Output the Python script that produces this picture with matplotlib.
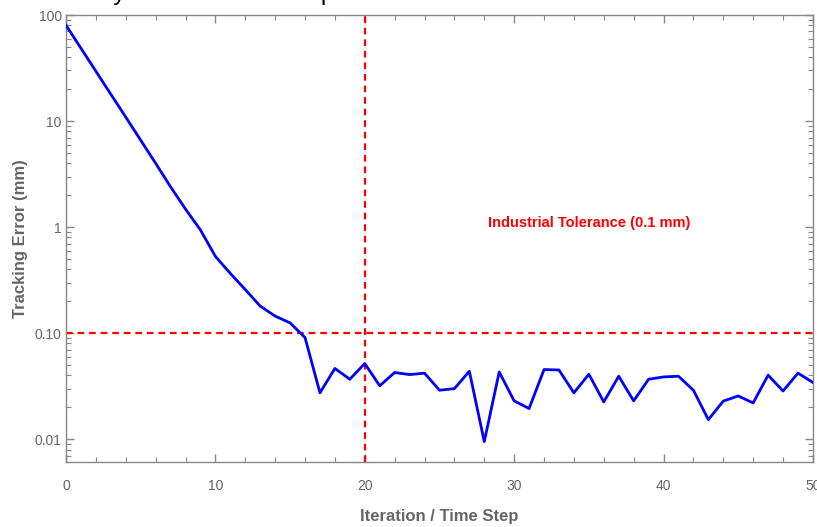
import numpy as np
import matplotlib.pyplot as plt
from matplotlib.ticker import FixedLocator, LogLocator, MultipleLocator, NullFormatter

# data
iterations = np.arange(0, 51)
tracking_error = [80.0, 48.6, 29.5, 17.9, 10.9, 6.6, 4.0, 2.4, 1.48, 0.94,
                  0.53, 0.366, 0.258, 0.18, 0.145, 0.125, 0.091, 0.0274, 0.0465, 0.0368,
                  0.0518, 0.0319, 0.0426, 0.0407, 0.042, 0.029, 0.030, 0.0438, 0.0095, 0.0431,
                  0.023, 0.0195, 0.0454, 0.045, 0.0274, 0.041, 0.0225, 0.0393, 0.023, 0.0368,
                  0.0387, 0.0393, 0.029, 0.0153, 0.0229, 0.0256, 0.022, 0.0402, 0.0285, 0.042,
                  0.0343]
tolerance = 0.1
cross_step = 20
y_ticks = [0.01, 0.1, 1, 10, 100]
y_tick_labels = ['0.01', '0.10', '1', '10', '100']

gray = '#666666'
sans = ['Liberation Sans', 'DejaVu Sans']

fig = plt.figure(figsize=(8.17, 5.27), dpi=100)
ax = fig.add_axes([0.0808, 0.1233, 0.9142, 0.8482])

ax.plot(iterations, tracking_error, color='#0000ff', lw=2.0, zorder=3)
ax.axhline(tolerance, color='#ff0000', lw=1.6, ls=(0, (3, 2.2)), zorder=2)
ax.axvline(cross_step, color='#ff0000', lw=1.6, ls=(0, (3, 2.2)), zorder=2)
ax.text(35, 1.1, 'Industrial Tolerance (0.1 mm)', color='#ff0000', fontsize=10.5,
        fontweight='bold', family=sans, ha='center', va='center')

ax.set_yscale('log')
ax.set_xlim(0, 50)
ax.set_ylim(0.0061, 100)

ax.xaxis.set_major_locator(MultipleLocator(10))
ax.xaxis.set_minor_locator(MultipleLocator(2))
ax.yaxis.set_major_locator(FixedLocator(y_ticks))
ax.set_yticklabels(y_tick_labels)
ax.yaxis.set_minor_locator(LogLocator(base=10, subs=np.arange(2, 10)))
ax.yaxis.set_minor_formatter(NullFormatter())

ax.tick_params(which='both', direction='in', top=True, right=True, colors='#888888',
               labelcolor=gray, labelsize=10)
ax.tick_params(which='major', length=6, width=1)
ax.tick_params(which='minor', length=3.5, width=0.8)
ax.tick_params(axis='x', pad=12)
ax.tick_params(axis='y', pad=3)
for lab in ax.get_xticklabels() + ax.get_yticklabels():
    lab.set_family(sans)

for sp in ax.spines.values():
    sp.set_color('#888888')
    sp.set_linewidth(1.0)

ax.set_xlabel('Iteration / Time Step', color=gray, fontsize=12, fontweight='bold',
              family=sans, labelpad=12)
ax.set_ylabel('Tracking Error (mm)', color=gray, fontsize=12, fontweight='bold',
              family=sans, labelpad=5)

# title is mostly cut off at the top edge in the reference
fig.text(0.032, 1.0, 'Accuracy Results with Compensation', fontsize=17.5,
         family=sans, color='black', va='baseline')

fig.savefig('out.png', dpi=100)
